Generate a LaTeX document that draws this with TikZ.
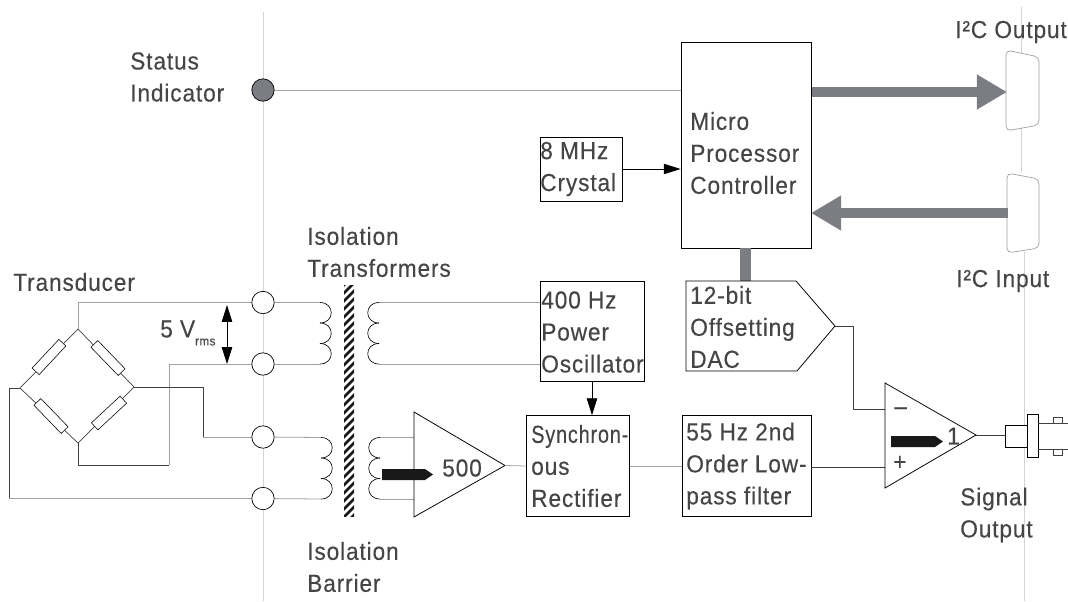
\documentclass[tikz,border=0pt]{standalone}
\usepackage{fontspec}
\setmainfont[FakeStretch=0.92,LetterSpace=3.6,FakeBold=0.25]{Liberation Sans}
\usetikzlibrary{arrows.meta}
\definecolor{InkGrey}{HTML}{454547}
\definecolor{BusGrey}{HTML}{7C7D82}
\definecolor{WireGrey}{HTML}{A0A0A0}
\definecolor{RuleGrey}{HTML}{D4D4D4}
\tikzstyle{TextLabel} = [inner sep=0pt, align=left, text=InkGrey,
    font=\fontsize{17.5}{22.75}\selectfont]
\tikzstyle{BlockBox} = [rectangle, draw=black, fill=white, line width=0.6pt, inner sep=0pt]
\tikzstyle{Terminal} = [circle, draw=black, fill=white, line width=0.5pt, inner sep=0pt, minimum size=0.56cm]
\tikzstyle{Resistor} = [rectangle, draw=black, fill=white, line width=0.4pt, inner sep=0pt,
    minimum width=0.98cm, minimum height=0.24cm]
\tikzstyle{wire} = [WireGrey, line width=0.55pt]
\tikzstyle{blackwire} = [black!75, line width=0.5pt]
\tikzstyle{rule} = [RuleGrey, line width=0.6pt]
\tikzstyle{bus} = [BusGrey, line width=0.26cm]
\tikzstyle{busarrow} = [BusGrey, line width=0.26cm, -{Triangle[length=0.75cm,width=0.82cm]}]
\tikzstyle{arrow} = [line width=0.5pt, black, -{Triangle[length=0.42cm,width=0.26cm]}]

\begin{document}
\begin{tikzpicture}[x=0.025cm,y=-0.025cm]
        \useasboundingbox (0,0) rectangle (1068,601);
        \draw [rule] (263,12) -- (263,601); %left rule
        \draw [rule] (1021,7) -- (1021,172); %right rule, top
        \draw [rule] (1024,252) -- (1024,601); %right rule, bottom

        \node[Terminal, fill=BusGrey, draw=black] (StatusLed) at (263,90) {};
        \node[Terminal] (TermA) at (263,302.5) {};
        \node[Terminal] (TermB) at (263,364) {};
        \node[Terminal] (TermC) at (263,437) {};
        \node[Terminal] (TermD) at (263,498.5) {};

        \node[BlockBox, minimum width=3.25cm, minimum height=5.15cm] (MicroBox) at (746,145) {};
        \node[BlockBox, minimum width=2.05cm, minimum height=1.6cm] (CrystalBox) at (581,169) {};
        \node[BlockBox, minimum width=2.6cm, minimum height=2.48cm] (OscBox) at (592,331.5) {};
        \node[BlockBox, minimum width=2.58cm, minimum height=2.52cm] (RectBox) at (578,466) {};
        \node[BlockBox, minimum width=3.22cm, minimum height=2.52cm] (FilterBox) at (746.5,466) {};

        %bridge
        \coordinate (BridgeTop) at (78,329);
        \coordinate (BridgeLeft) at (20,388);
        \coordinate (BridgeRight) at (134,387);
        \coordinate (BridgeBottom) at (78,443);
        \draw [blackwire] (BridgeTop) -- (BridgeRight) -- (BridgeBottom) -- (BridgeLeft) -- cycle;
        \node[Resistor, rotate=-46] (ResA) at (108,358) {};
        \node[Resistor, rotate=47] (ResB) at (49,357) {};
        \node[Resistor, rotate=-46] (ResC) at (51,416) {};
        \node[Resistor, rotate=43] (ResD) at (109,413) {};

        %transducer wires
        \draw [wire] (BridgeTop) -- (78,302.5) -- (TermA);
        \draw [blackwire] (BridgeBottom) -- (78,465) -- (169,465);
        \draw [wire] (169,465) -- (169,364) -- (TermB);
        \draw [blackwire] (BridgeRight) -- (203,387) -- (203,437);
        \draw [wire] (203,437) -- (TermC);
        \draw [blackwire] (BridgeLeft) -- (9,388) -- (9,498.5);
        \draw [wire] (9,498.5) -- (TermD);
        \draw [{Triangle[length=0.42cm,width=0.26cm]}-{Triangle[length=0.42cm,width=0.26cm]}, line width=0.6pt, black] (227,305) -- (227,364); %5 V arrow

        %coils
        \foreach \cx/\dir/\cy in {320/1/302.5, 379/-1/302.5, 321/1/437.5, 380/-1/437.5} {
            \foreach \n in {0,1,2} {
                \draw [black, line width=0.45pt] (\cx,{\cy+\n*20.5}) .. controls ({\cx+\dir*15},{\cy+\n*20.5}) and ({\cx+\dir*15},{\cy+\n*20.5+20.5}) .. (\cx,{\cy+\n*20.5+20.5});
            }
        }
        \draw [wire] (TermA) -- (320,302.5);
        \draw [wire] (TermB) -- (320,364);
        \draw [wire] (TermC) -- (321,437.5);
        \draw [wire] (TermD) -- (321,499);
        \draw [wire] (379,302.5) -- (OscBox.west |- 379,302.5);
        \draw [wire] (379,364) -- (OscBox.west |- 379,364);

        %barrier
        \begin{scope}
            \clip (344,285) rectangle (354,516);
            \fill [white] (344,285) rectangle (354,516);
            \foreach \s in {280,288,...,525} {
                \draw [black!90, line width=0.07cm] (340,{\s+9}) -- (358,{\s-9});
            }
        \end{scope}

        %amp 500
        \coordinate (AmpTip) at (505,465.5);
        \draw [wire] (380,437.5) -- (414,437.5);
        \draw [wire] (380,499) -- (414,499);
        \draw [black, fill=white, line width=0.55pt] (414,412) -- (AmpTip) -- (414,517) -- cycle;
        \fill [black!90] (382,469) -- (425,469) -- (433,474.5) -- (425,480) -- (382,480) -- cycle; %gain pointer
        \draw [wire] (AmpTip) -- (RectBox.west);

        %dac
        \coordinate (DacTip) at (835,326);
        \draw [bus] (745.5,248) -- (745.5,283);
        \draw [black, fill=white, line width=0.55pt] (686,281) -- (796,281) -- (DacTip) -- (797,371) -- (686,371) -- cycle;

        %amp 1
        \coordinate (BufTip) at (976,435);
        \draw [blackwire] (DacTip) -- (853,326) -- (853,409) -- (885,409);
        \draw [blackwire] (FilterBox.east |- 811,467) -- (885,467);
        \draw [black, fill=white, line width=0.55pt] (885,383) -- (BufTip) -- (885,488) -- cycle;
        \fill [black!90] (891,436) -- (935,436) -- (943,441.5) -- (935,447) -- (891,447) -- cycle; %gain pointer
        \draw [wire] (RectBox.east) -- (FilterBox.west);
        \draw [arrow] (OscBox.south) -- (RectBox.north -| OscBox.south);
        \draw [arrow] (CrystalBox.east) -- (MicroBox.west |- CrystalBox.east);
        \draw [wire] (StatusLed) -- (MicroBox.west |- StatusLed);

        %bnc
        \draw [blackwire] (BufTip) -- (1005,435);
        \draw [black, fill=white, line width=0.5pt] (1005,425) rectangle (1027,447);
        \draw [black, fill=white, line width=0.5pt] (1027,414) rectangle (1038,457);
        \draw [blackwire] (1038,423) -- (1068,423);
        \draw [blackwire] (1038,449) -- (1068,449);
        \draw [blackwire] (1053,417) rectangle (1062,423);
        \draw [blackwire] (1053,449) rectangle (1062,455);

        %connectors
        \draw [WireGrey, fill=white, line width=0.5pt, rounded corners=0.12cm] (1006,50) -- (1039,57) -- (1039,125) -- (1006,131) -- cycle; %output
        \draw [WireGrey, fill=white, line width=0.5pt, rounded corners=0.12cm] (1007,173) -- (1039,179) -- (1039,248) -- (1007,253) -- cycle; %input
        \draw [busarrow] (812,92) -- (1007,92);
        \draw [busarrow] (1008,213) -- (811,213);

        %text
        \node[TextLabel, anchor=west] (StatusText) at (130,77) {Status\\Indicator};
        \node[TextLabel, anchor=west] (OutputText) at (955,32) {I²C Output};
        \node[TextLabel, anchor=west] (InputText) at (956,281) {I²C Input};
        \node[TextLabel, anchor=west] (TransducerText) at (13,282) {Transducer};
        \node[TextLabel, anchor=west] (TransformerText) at (307,252) {Isolation\\Transformers};
        \node[TextLabel, anchor=west] (BarrierText) at (307,567) {Isolation\\Barrier};
        \node[TextLabel, anchor=west] (VoltageText) at (160,333) {5 V\raisebox{-5.7pt}{\fontsize{9}{9}\selectfont rms}};
        \node[TextLabel, anchor=west] (CrystalText) at (540,169) {8 MHz\\Crystal};
        \node[TextLabel, anchor=west] (MicroText) at (690,153) {Micro\\Processor\\Controller};
        \node[TextLabel, anchor=west] (OscText) at (541,332) {400 Hz\\Power\\Oscillator};
        \node[TextLabel, anchor=west] (DacText) at (690,327) {12-bit\\Offsetting\\DAC};
        \node[TextLabel, anchor=west] (RectText) at (531,466) {\scalebox{.88}[1]{Synchron-}\\ous\\Rectifier};
        \node[TextLabel, anchor=west] (FilterText) at (686,466) {55 Hz 2nd\\Order Low-\\pass filter};
        \node[TextLabel, anchor=west] (AmpText) at (442,468) {500};
        \node[TextLabel, anchor=west] (BufText) at (947,436) {1};
        \node[TextLabel, anchor=west] (MinusText) at (894,411) {--};
        \node[TextLabel, anchor=west] (PlusText) at (893,463) {+};
        \node[TextLabel, anchor=west] (SignalText) at (960,515) {Signal\\Output};
\end{tikzpicture}
\end{document}
